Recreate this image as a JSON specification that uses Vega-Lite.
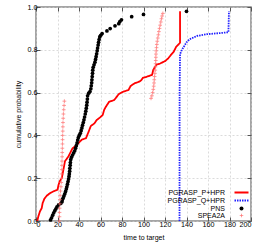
{
  "$schema": "https://vega.github.io/schema/vega-lite/v6.json",
  "width": 215,
  "height": 214,
  "autosize": {"type": "none"},
  "padding": {"left": 36, "top": 7, "right": 14, "bottom": 25},
  "background": "white",
  "config": {
    "font": "Liberation Sans",
    "view": {"stroke": "#888888", "strokeWidth": 1.5},
    "axis": {
      "labelFont": "Liberation Sans", "labelFontSize": 7.2, "labelColor": "#000000",
      "titleFont": "Liberation Sans", "titleFontSize": 7, "titleFontWeight": "normal", "titleColor": "#000000",
      "domain": false, "tickColor": "#555555", "tickSize": -4, "tickWidth": 1,
      "gridColor": "#cccccc", "gridDash": [2, 2], "gridWidth": 0.7
    },
    "legend": {"labelFont": "Liberation Sans", "labelFontSize": 7, "labelColor": "#000000"}
  },
  "resolve": {"axis": {"x": "independent", "y": "independent"}},
  "datasets": {
    "lines": [
      {"series": "PGRASP_P+HPR", "t": 1.2, "p": 0},
      {"series": "PGRASP_P+HPR", "t": 2.2, "p": 0.022},
      {"series": "PGRASP_P+HPR", "t": 3.7, "p": 0.045},
      {"series": "PGRASP_P+HPR", "t": 5.3, "p": 0.06},
      {"series": "PGRASP_P+HPR", "t": 6.2, "p": 0.084},
      {"series": "PGRASP_P+HPR", "t": 7.8, "p": 0.104},
      {"series": "PGRASP_P+HPR", "t": 10, "p": 0.118},
      {"series": "PGRASP_P+HPR", "t": 13, "p": 0.13},
      {"series": "PGRASP_P+HPR", "t": 16, "p": 0.138},
      {"series": "PGRASP_P+HPR", "t": 20, "p": 0.146},
      {"series": "PGRASP_P+HPR", "t": 21, "p": 0.169},
      {"series": "PGRASP_P+HPR", "t": 22, "p": 0.185},
      {"series": "PGRASP_P+HPR", "t": 24, "p": 0.2},
      {"series": "PGRASP_P+HPR", "t": 25.5, "p": 0.24},
      {"series": "PGRASP_P+HPR", "t": 27, "p": 0.28},
      {"series": "PGRASP_P+HPR", "t": 30, "p": 0.3},
      {"series": "PGRASP_P+HPR", "t": 31.7, "p": 0.317},
      {"series": "PGRASP_P+HPR", "t": 34, "p": 0.34},
      {"series": "PGRASP_P+HPR", "t": 38, "p": 0.355},
      {"series": "PGRASP_P+HPR", "t": 42.5, "p": 0.38},
      {"series": "PGRASP_P+HPR", "t": 46.5, "p": 0.387},
      {"series": "PGRASP_P+HPR", "t": 49, "p": 0.418},
      {"series": "PGRASP_P+HPR", "t": 51, "p": 0.444},
      {"series": "PGRASP_P+HPR", "t": 54.3, "p": 0.456},
      {"series": "PGRASP_P+HPR", "t": 56.5, "p": 0.472},
      {"series": "PGRASP_P+HPR", "t": 59.6, "p": 0.484},
      {"series": "PGRASP_P+HPR", "t": 62, "p": 0.495},
      {"series": "PGRASP_P+HPR", "t": 63.4, "p": 0.519},
      {"series": "PGRASP_P+HPR", "t": 65, "p": 0.534},
      {"series": "PGRASP_P+HPR", "t": 68, "p": 0.557},
      {"series": "PGRASP_P+HPR", "t": 72.7, "p": 0.565},
      {"series": "PGRASP_P+HPR", "t": 75, "p": 0.58},
      {"series": "PGRASP_P+HPR", "t": 77, "p": 0.593},
      {"series": "PGRASP_P+HPR", "t": 81, "p": 0.604},
      {"series": "PGRASP_P+HPR", "t": 86, "p": 0.612},
      {"series": "PGRASP_P+HPR", "t": 88, "p": 0.631},
      {"series": "PGRASP_P+HPR", "t": 92, "p": 0.644},
      {"series": "PGRASP_P+HPR", "t": 96, "p": 0.651},
      {"series": "PGRASP_P+HPR", "t": 98, "p": 0.658},
      {"series": "PGRASP_P+HPR", "t": 99.4, "p": 0.669},
      {"series": "PGRASP_P+HPR", "t": 103, "p": 0.674},
      {"series": "PGRASP_P+HPR", "t": 108, "p": 0.683},
      {"series": "PGRASP_P+HPR", "t": 109, "p": 0.705},
      {"series": "PGRASP_P+HPR", "t": 112, "p": 0.731},
      {"series": "PGRASP_P+HPR", "t": 115.5, "p": 0.736},
      {"series": "PGRASP_P+HPR", "t": 120, "p": 0.747},
      {"series": "PGRASP_P+HPR", "t": 123, "p": 0.76},
      {"series": "PGRASP_P+HPR", "t": 125.5, "p": 0.776},
      {"series": "PGRASP_P+HPR", "t": 128, "p": 0.79},
      {"series": "PGRASP_P+HPR", "t": 130.4, "p": 0.814},
      {"series": "PGRASP_P+HPR", "t": 132.6, "p": 0.825},
      {"series": "PGRASP_P+HPR", "t": 134, "p": 0.833},
      {"series": "PGRASP_P+HPR", "t": 134, "p": 0.98},
      {"series": "PGRASP_Q+HPR", "t": 133.5, "p": 0},
      {"series": "PGRASP_Q+HPR", "t": 133.6, "p": 0.6},
      {"series": "PGRASP_Q+HPR", "t": 134, "p": 0.78},
      {"series": "PGRASP_Q+HPR", "t": 135.7, "p": 0.8},
      {"series": "PGRASP_Q+HPR", "t": 137, "p": 0.81},
      {"series": "PGRASP_Q+HPR", "t": 140, "p": 0.835},
      {"series": "PGRASP_Q+HPR", "t": 143, "p": 0.85},
      {"series": "PGRASP_Q+HPR", "t": 150, "p": 0.865},
      {"series": "PGRASP_Q+HPR", "t": 159, "p": 0.873},
      {"series": "PGRASP_Q+HPR", "t": 171, "p": 0.878},
      {"series": "PGRASP_Q+HPR", "t": 179, "p": 0.882},
      {"series": "PGRASP_Q+HPR", "t": 179.5, "p": 0.98}
    ],
    "pns": [
      {"series": "PNS", "t": 13.5, "p": 0.005}, {"series": "PNS", "t": 14.5, "p": 0.015},
      {"series": "PNS", "t": 15.5, "p": 0.027}, {"series": "PNS", "t": 16.5, "p": 0.038},
      {"series": "PNS", "t": 17.5, "p": 0.048}, {"series": "PNS", "t": 18.5, "p": 0.057},
      {"series": "PNS", "t": 19.5, "p": 0.066}, {"series": "PNS", "t": 21, "p": 0.075},
      {"series": "PNS", "t": 23, "p": 0.082}, {"series": "PNS", "t": 24.2, "p": 0.09},
      {"series": "PNS", "t": 24.5, "p": 0.1}, {"series": "PNS", "t": 25.3, "p": 0.108},
      {"series": "PNS", "t": 26, "p": 0.117}, {"series": "PNS", "t": 26.8, "p": 0.127},
      {"series": "PNS", "t": 27.5, "p": 0.138}, {"series": "PNS", "t": 28.2, "p": 0.15},
      {"series": "PNS", "t": 28.7, "p": 0.16}, {"series": "PNS", "t": 29.3, "p": 0.172},
      {"series": "PNS", "t": 29.8, "p": 0.184}, {"series": "PNS", "t": 30.3, "p": 0.196},
      {"series": "PNS", "t": 30.7, "p": 0.208}, {"series": "PNS", "t": 31, "p": 0.22},
      {"series": "PNS", "t": 31.3, "p": 0.233}, {"series": "PNS", "t": 31.5, "p": 0.246},
      {"series": "PNS", "t": 31.8, "p": 0.26}, {"series": "PNS", "t": 32, "p": 0.273},
      {"series": "PNS", "t": 32.3, "p": 0.287}, {"series": "PNS", "t": 33, "p": 0.298},
      {"series": "PNS", "t": 34, "p": 0.308}, {"series": "PNS", "t": 35, "p": 0.318},
      {"series": "PNS", "t": 36, "p": 0.328}, {"series": "PNS", "t": 36.8, "p": 0.34},
      {"series": "PNS", "t": 37.5, "p": 0.352}, {"series": "PNS", "t": 38.2, "p": 0.365},
      {"series": "PNS", "t": 38.8, "p": 0.378}, {"series": "PNS", "t": 39.4, "p": 0.39},
      {"series": "PNS", "t": 40.2, "p": 0.4}, {"series": "PNS", "t": 41.2, "p": 0.41},
      {"series": "PNS", "t": 42, "p": 0.422}, {"series": "PNS", "t": 42.7, "p": 0.435},
      {"series": "PNS", "t": 43.3, "p": 0.448}, {"series": "PNS", "t": 44, "p": 0.46},
      {"series": "PNS", "t": 44.6, "p": 0.473}, {"series": "PNS", "t": 45.2, "p": 0.486},
      {"series": "PNS", "t": 45.8, "p": 0.5}, {"series": "PNS", "t": 46.3, "p": 0.513},
      {"series": "PNS", "t": 46.8, "p": 0.527}, {"series": "PNS", "t": 47.2, "p": 0.541},
      {"series": "PNS", "t": 47.5, "p": 0.555}, {"series": "PNS", "t": 47.8, "p": 0.57},
      {"series": "PNS", "t": 48, "p": 0.585}, {"series": "PNS", "t": 49, "p": 0.597},
      {"series": "PNS", "t": 50.2, "p": 0.605}, {"series": "PNS", "t": 51, "p": 0.618},
      {"series": "PNS", "t": 51.4, "p": 0.632}, {"series": "PNS", "t": 51.8, "p": 0.646},
      {"series": "PNS", "t": 52, "p": 0.66}, {"series": "PNS", "t": 52.3, "p": 0.675},
      {"series": "PNS", "t": 52.6, "p": 0.69}, {"series": "PNS", "t": 52.8, "p": 0.705},
      {"series": "PNS", "t": 53.2, "p": 0.718}, {"series": "PNS", "t": 54, "p": 0.73},
      {"series": "PNS", "t": 54.8, "p": 0.742}, {"series": "PNS", "t": 55.4, "p": 0.755},
      {"series": "PNS", "t": 55.9, "p": 0.768}, {"series": "PNS", "t": 56.4, "p": 0.781},
      {"series": "PNS", "t": 56.9, "p": 0.795}, {"series": "PNS", "t": 57.3, "p": 0.808},
      {"series": "PNS", "t": 57.8, "p": 0.822}, {"series": "PNS", "t": 58.2, "p": 0.835},
      {"series": "PNS", "t": 58.7, "p": 0.848}, {"series": "PNS", "t": 59.3, "p": 0.86},
      {"series": "PNS", "t": 60.2, "p": 0.868}, {"series": "PNS", "t": 61.5, "p": 0.876},
      {"series": "PNS", "t": 66, "p": 0.888}, {"series": "PNS", "t": 69, "p": 0.899},
      {"series": "PNS", "t": 73.5, "p": 0.912}, {"series": "PNS", "t": 77, "p": 0.922},
      {"series": "PNS", "t": 78, "p": 0.932}, {"series": "PNS", "t": 79.5, "p": 0.94},
      {"series": "PNS", "t": 89, "p": 0.955}, {"series": "PNS", "t": 100, "p": 0.965},
      {"series": "PNS", "t": 140, "p": 0.98}
    ],
    "spea": [
      {"series": "SPEA2A", "t": 21.7, "p": 0.0}, {"series": "SPEA2A", "t": 21.8, "p": 0.02},
      {"series": "SPEA2A", "t": 21.9, "p": 0.04}, {"series": "SPEA2A", "t": 22, "p": 0.06},
      {"series": "SPEA2A", "t": 22.1, "p": 0.08}, {"series": "SPEA2A", "t": 22.2, "p": 0.1},
      {"series": "SPEA2A", "t": 22.4, "p": 0.12}, {"series": "SPEA2A", "t": 22.8, "p": 0.14},
      {"series": "SPEA2A", "t": 23.2, "p": 0.16}, {"series": "SPEA2A", "t": 23.5, "p": 0.18},
      {"series": "SPEA2A", "t": 23.7, "p": 0.2}, {"series": "SPEA2A", "t": 23.9, "p": 0.22},
      {"series": "SPEA2A", "t": 24, "p": 0.24}, {"series": "SPEA2A", "t": 24.1, "p": 0.26},
      {"series": "SPEA2A", "t": 24.2, "p": 0.28}, {"series": "SPEA2A", "t": 24.3, "p": 0.3},
      {"series": "SPEA2A", "t": 24.4, "p": 0.32}, {"series": "SPEA2A", "t": 24.5, "p": 0.34},
      {"series": "SPEA2A", "t": 24.6, "p": 0.36}, {"series": "SPEA2A", "t": 24.7, "p": 0.38},
      {"series": "SPEA2A", "t": 24.8, "p": 0.4}, {"series": "SPEA2A", "t": 24.9, "p": 0.42},
      {"series": "SPEA2A", "t": 25, "p": 0.44}, {"series": "SPEA2A", "t": 25.1, "p": 0.46},
      {"series": "SPEA2A", "t": 25.3, "p": 0.48}, {"series": "SPEA2A", "t": 25.5, "p": 0.5},
      {"series": "SPEA2A", "t": 25.8, "p": 0.52}, {"series": "SPEA2A", "t": 26.1, "p": 0.54},
      {"series": "SPEA2A", "t": 26.4, "p": 0.56},
      {"series": "SPEA2A", "t": 107, "p": 0.573}, {"series": "SPEA2A", "t": 107.8, "p": 0.585},
      {"series": "SPEA2A", "t": 108.5, "p": 0.6}, {"series": "SPEA2A", "t": 109.1, "p": 0.615},
      {"series": "SPEA2A", "t": 109.5, "p": 0.63}, {"series": "SPEA2A", "t": 109.8, "p": 0.645},
      {"series": "SPEA2A", "t": 110, "p": 0.66}, {"series": "SPEA2A", "t": 110.3, "p": 0.675},
      {"series": "SPEA2A", "t": 110.6, "p": 0.69}, {"series": "SPEA2A", "t": 110.9, "p": 0.705},
      {"series": "SPEA2A", "t": 111.1, "p": 0.72}, {"series": "SPEA2A", "t": 111.3, "p": 0.735},
      {"series": "SPEA2A", "t": 111.4, "p": 0.75}, {"series": "SPEA2A", "t": 111.5, "p": 0.765},
      {"series": "SPEA2A", "t": 111.6, "p": 0.78}, {"series": "SPEA2A", "t": 111.8, "p": 0.795},
      {"series": "SPEA2A", "t": 112.1, "p": 0.81}, {"series": "SPEA2A", "t": 112.4, "p": 0.825},
      {"series": "SPEA2A", "t": 112.8, "p": 0.84}, {"series": "SPEA2A", "t": 113.3, "p": 0.855},
      {"series": "SPEA2A", "t": 113.8, "p": 0.87}, {"series": "SPEA2A", "t": 114.3, "p": 0.885},
      {"series": "SPEA2A", "t": 114.9, "p": 0.9}, {"series": "SPEA2A", "t": 115.5, "p": 0.915},
      {"series": "SPEA2A", "t": 116.1, "p": 0.93}, {"series": "SPEA2A", "t": 116.7, "p": 0.945},
      {"series": "SPEA2A", "t": 117.3, "p": 0.958}, {"series": "SPEA2A", "t": 118, "p": 0.97}
    ]
  },
  "layer": [
    {
      "data": {"name": "lines"},
      "mark": {"type": "line", "strokeWidth": 1.8, "clip": true},
      "encoding": {
        "x": {"field": "t", "type": "quantitative", "scale": {"domain": [0, 200], "nice": false},
              "axis": {"title": "time to target", "values": [0,20,40,60,80,100,120,140,160,180,200], "labelPadding": 3, "titlePadding": 6}},
        "y": {"field": "p", "type": "quantitative", "scale": {"domain": [0, 1], "nice": false},
              "axis": {"title": "cumulative probability", "values": [0,0.2,0.4,0.6,0.8,1], "labelPadding": 3, "titlePadding": 6}},
        "color": {"field": "series", "type": "nominal",
                  "scale": {"domain": ["PGRASP_P+HPR", "PGRASP_Q+HPR", "PNS", "SPEA2A"], "range": ["#ff0000", "#2222ff", "#000000", "#ff7070"]},
                  "legend": {"title": null, "orient": "none", "legendX": 202, "legendY": 182, "labelAlign": "right", "labelOffset": -20, "rowPadding": -2, "symbolSize": 196, "symbolStrokeWidth": 1.8, "labelLimit": 0,
                    "encode": {"symbols": {"update": {
                      "shape": {"signal": "datum.value === 'PNS' ? 'circle' : datum.value === 'SPEA2A' ? 'M-0.25,0L0.25,0M0,-0.25L0,0.25' : 'stroke'"},
                      "size": {"signal": "datum.value === 'PNS' ? 16 : 196"},
                      "fill": {"signal": "datum.value === 'PNS' ? '#000000' : 'transparent'"},
                      "stroke": {"signal": "datum.value === 'PGRASP_P+HPR' ? '#ff0000' : datum.value === 'PGRASP_Q+HPR' ? '#2222ff' : datum.value === 'PNS' ? '#000000' : '#ff7070'"},
                      "strokeWidth": {"signal": "datum.value === 'PNS' ? 0 : datum.value === 'SPEA2A' ? 0.8 : 1.8"},
                      "strokeDash": {"signal": "datum.value === 'PGRASP_Q+HPR' ? [1.5, 1] : [1, 0]"},
                      "opacity": {"value": 1}
                    }}}}},
        "strokeDash": {"field": "series", "type": "nominal",
                       "scale": {"domain": ["PGRASP_P+HPR", "PGRASP_Q+HPR"], "range": [[1, 0], [1.5, 1]]}, "legend": null},
        "detail": {"field": "series"},
        "order": {"field": "p"}
      }
    },
    {
      "data": {"name": "pns"},
      "mark": {"type": "point", "shape": "circle", "filled": true, "size": 14, "opacity": 1},
      "encoding": {
        "x": {"field": "t", "type": "quantitative", "axis": null},
        "y": {"field": "p", "type": "quantitative", "axis": null},
        "color": {"field": "series", "type": "nominal"}
      }
    },
    {
      "data": {"name": "spea"},
      "mark": {"type": "point", "shape": "M-1,0L1,0M0,-1L0,1", "filled": false, "size": 14, "strokeWidth": 0.8, "opacity": 0.9},
      "encoding": {
        "x": {"field": "t", "type": "quantitative",
              "axis": {"orient": "top", "labels": false, "title": null, "grid": false, "values": [0,20,40,60,80,100,120,140,160,180,200]}},
        "y": {"field": "p", "type": "quantitative",
              "axis": {"orient": "right", "labels": false, "title": null, "grid": false, "values": [0,0.2,0.4,0.6,0.8,1]}},
        "color": {"field": "series", "type": "nominal"}
      }
    }
  ]
}
